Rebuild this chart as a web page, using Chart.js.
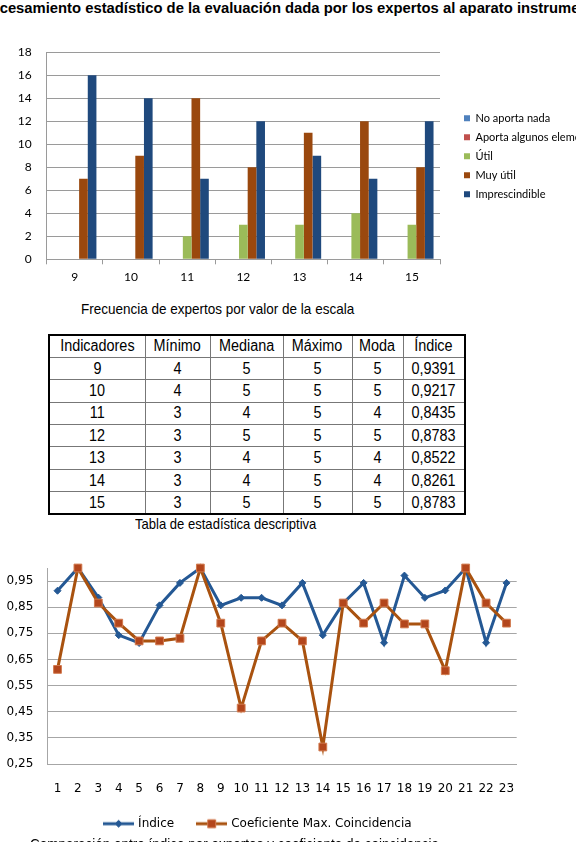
<!DOCTYPE html>
<html lang="es">
<head>
<meta charset="utf-8">
<script src="https://cdn.jsdelivr.net/npm/chart.js@4.4.1/dist/chart.umd.min.js"></script>
<style>
  html, body { margin: 0; padding: 0; background: #fff; }
  body {
    width: 576px; height: 842px; overflow: hidden; position: relative;
    font-family: 'Liberation Sans Narrow', 'Arial Narrow', 'Liberation Sans', sans-serif;
    color: #000;
  }
  .abs { position: absolute; white-space: nowrap; }
  .estrecho { transform: scaleX(0.9); transform-origin: 0 0; }
  #titulo { top: -1px; left: -25px; font-family: 'Liberation Sans', sans-serif; font-weight: bold; font-size: 14.8px; line-height: 18px; }
  #capBarras { top: 300px; left: 81px; font-size: 15px; }
  #capTabla { top: 516px; left: 135px; font-size: 14.5px; }
  #capLineas { top: 835px; left: 30px; font-size: 15px; }
  #barras { position: absolute; top: 30px; left: 0; }
  #lineas { position: absolute; top: 545px; left: 0; }
  table {
    position: absolute; top: 334px; left: 48px; width: 416px;
    border-collapse: collapse; table-layout: fixed;
    border: 2px solid #000; font-size: 16px;
  }
  td, th { border: 1px solid #777; text-align: center; padding: 0; font-weight: normal; line-height: 18px; white-space: nowrap; }
  td span, th span { display: inline-block; transform: scaleX(0.9); }
  tr { height: 22.4px; }
</style>
</head>
<body>
<div id="titulo" class="abs">Procesamiento estadístico de la evaluación dada por los expertos al aparato instrumental</div>
<canvas id="barras" width="576" height="266"></canvas>
<div id="capBarras" class="abs estrecho">Frecuencia de expertos por valor de la escala</div>
<table id="tabla">
  <colgroup><col style="width:96px"><col style="width:65px"><col style="width:73px"><col style="width:69px"><col style="width:51px"><col style="width:62px"></colgroup>
  <thead></thead>
  <tbody></tbody>
</table>
<div id="capTabla" class="abs estrecho">Tabla de estadística descriptiva</div>
<canvas id="lineas" width="533" height="297"></canvas>
<div id="capLineas" class="abs estrecho">Comparación entre índice por expertos y coeficiente de coincidencia</div>
<script>
// --- datos del gráfico de barras ---
const escala = ['9', '10', '11', '12', '13', '14', '15'];
const noAporta = [0, 0, 0, 0, 0, 0, 0];
const aportaAlgunos = [0, 0, 0, 0, 0, 0, 0];
const util = [0, 0, 2, 3, 3, 4, 3];
const muyUtil = [7, 9, 14, 8, 11, 12, 8];
const imprescindible = [16, 14, 7, 12, 9, 7, 12];

// --- tabla de estadística descriptiva ---
const columnas = ['Indicadores', 'Mínimo', 'Mediana', 'Máximo', 'Moda', 'Índice'];
const minimo = [4, 4, 3, 3, 3, 3, 3];
const mediana = [5, 5, 4, 5, 4, 4, 5];
const maximo = [5, 5, 5, 5, 5, 5, 5];
const moda = [5, 5, 4, 5, 4, 4, 5];
const indiceTabla = ['0,9391', '0,9217', '0,8435', '0,8783', '0,8522', '0,8261', '0,8783'];

// --- datos del gráfico de líneas ---
const puntos = ['1', '2', '3', '4', '5', '6', '7', '8', '9', '10', '11', '12',
                '13', '14', '15', '16', '17', '18', '19', '20', '21', '22', '23'];
const indice = [0.913, 1.0, 0.887, 0.743, 0.713, 0.857, 0.943, 1.0, 0.857, 0.886, 0.886, 0.857,
                0.943, 0.743, 0.865, 0.943, 0.714, 0.971, 0.886, 0.914, 1.0, 0.714, 0.943];
const coefMax = [0.612, 1.0, 0.866, 0.789, 0.721, 0.721, 0.731, 1.0, 0.789, 0.464, 0.721, 0.789,
                 0.721, 0.315, 0.866, 0.789, 0.866, 0.786, 0.786, 0.607, 1.0, 0.866, 0.789];
const ticksLineas = [0.25, 0.35, 0.45, 0.55, 0.65, 0.75, 0.85, 0.95];

// tabla
const celda = (tag, v) => '<' + tag + '><span>' + v + '</span></' + tag + '>';
document.querySelector('#tabla thead').innerHTML =
  '<tr>' + columnas.map(c => celda('th', c)).join('') + '</tr>';
const tbody = document.querySelector('#tabla tbody');
escala.forEach((e, i) => {
  const tr = document.createElement('tr');
  tr.innerHTML = [e, minimo[i], mediana[i], maximo[i], moda[i], indiceTabla[i]]
    .map(v => celda('td', v)).join('');
  tbody.appendChild(tr);
});

Chart.defaults.animation = false;
Chart.defaults.color = '#000';

// mueve la leyenda de barras un poco hacia la derecha / arriba
const moverLeyenda = {
  id: 'moverLeyenda',
  afterLayout(chart, args, opts) {
    if (!chart.legend) return;
    chart.legend.left += opts.dx || 0;
    chart.legend.right += opts.dx || 0;
    chart.legend.top += opts.dy || 0;
    chart.legend.bottom += opts.dy || 0;
  }
};

const gris = '#9a9a9a';
const fuenteBarras = { family: 'Lato', size: 11 };
const fuenteEjes = { family: 'Lato', size: 12 };

new Chart(document.getElementById('barras'), {
  type: 'bar',
  data: {
    labels: escala,
    datasets: [
      { label: 'No aporta nada', data: noAporta, backgroundColor: '#4F81BD' },
      { label: 'Aporta algunos elementos', data: aportaAlgunos, backgroundColor: '#C0504D' },
      { label: 'Útil', data: util, backgroundColor: '#9BBB59' },
      { label: 'Muy útil', data: muyUtil, backgroundColor: '#9A480E' },
      { label: 'Imprescindible', data: imprescindible, backgroundColor: '#1F497D' }
    ]
  },
  options: {
    responsive: false,
    devicePixelRatio: 1,
    datasets: { bar: { categoryPercentage: 0.77, barPercentage: 1, borderWidth: 0 } },
    layout: { padding: { top: 14, bottom: 11.7, left: 0 } },
    scales: {
      y: {
        min: 0, max: 18,
        ticks: { stepSize: 2, padding: 15, font: fuenteEjes },
        grid: { color: gris, drawTicks: false },
        border: { color: gris },
        afterFit(s) { s.width = 46.7; }
      },
      x: {
        grid: { offset: true, drawOnChartArea: false, tickLength: 5, color: gris },
        border: { color: gris },
        ticks: { padding: 6, font: fuenteEjes },
        afterFit(s) { s.height = 25; }
      }
    },
    plugins: {
      legend: {
        position: 'right',
        maxWidth: 136,
        labels: { boxWidth: 6, boxHeight: 6, padding: 8, font: fuenteBarras }
      },
      tooltip: { enabled: false },
      moverLeyenda: { dx: 16, dy: -8 }
    }
  },
  plugins: [moverLeyenda]
});

// muestras de la leyenda: línea con marcador
function muestra(color, relleno, borde, forma) {
  const c = document.createElement('canvas');
  c.width = 31; c.height = 12;
  const g = c.getContext('2d');
  g.strokeStyle = color; g.lineWidth = 3;
  g.beginPath(); g.moveTo(0, 6); g.lineTo(31, 6); g.stroke();
  g.fillStyle = relleno; g.strokeStyle = borde; g.lineWidth = 1;
  g.beginPath();
  if (forma === 'rombo') {
    g.moveTo(15.5, 2.5); g.lineTo(19, 6); g.lineTo(15.5, 9.5); g.lineTo(12, 6);
  } else {
    g.rect(11.5, 2, 8, 8);
  }
  g.closePath(); g.fill(); g.stroke();
  return c;
}
const azul = '#245894';
const naranja = '#A9520F';
const muestras = [
  muestra(azul, azul, azul, 'rombo'),
  muestra(naranja, '#B3461C', '#D27A4E', 'cuadro')
];

const fuenteLineas = { family: 'DejaVu Sans', size: 12 };
const grisLineas = '#a6a6a6';

new Chart(document.getElementById('lineas'), {
  type: 'line',
  data: {
    labels: puntos,
    datasets: [
      {
        label: 'Índice', data: indice, order: 1, clip: false,
        borderColor: azul, backgroundColor: azul, borderWidth: 3,
        pointStyle: 'rectRot', pointRadius: 3.5, pointBackgroundColor: azul, pointBorderColor: azul,
        pointBorderWidth: 1
      },
      {
        label: 'Coeficiente Max. Coincidencia', data: coefMax, order: 0, clip: false,
        borderColor: naranja, backgroundColor: naranja, borderWidth: 3,
        pointStyle: 'rect', pointRadius: 5.5, pointBackgroundColor: '#B3461C', pointBorderColor: '#D27A4E',
        pointBorderWidth: 1
      }
    ]
  },
  options: {
    responsive: false,
    devicePixelRatio: 1,
    layout: { padding: { top: 23, right: 16.3, bottom: 2.3, left: 0 } },
    scales: {
      y: {
        min: 0.25, max: 1.0,
        afterBuildTicks(s) { s.ticks = ticksLineas.map(v => ({ value: v })); },
        ticks: { padding: 14, font: fuenteLineas, callback: v => v.toFixed(2).replace('.', ',') },
        grid: { color: grisLineas, drawTicks: false },
        border: { color: grisLineas },
        afterFit(s) { s.width = 47.3; }
      },
      x: {
        offset: true,
        grid: { display: false, drawTicks: false },
        border: { color: grisLineas },
        ticks: { padding: 18, font: fuenteLineas, autoSkip: false, maxRotation: 0 },
        afterFit(s) { s.height = 29.7; }
      }
    },
    plugins: {
      legend: {
        position: 'bottom',
        labels: {
          usePointStyle: true, pointStyleWidth: 27, padding: 24, font: fuenteLineas,
          sort: (a, b) => a.datasetIndex - b.datasetIndex,
          generateLabels(chart) {
            const items = Chart.defaults.plugins.legend.labels.generateLabels(chart);
            items.forEach(it => { it.pointStyle = muestras[it.datasetIndex]; });
            return items;
          }
        }
      },
      tooltip: { enabled: false }
    }
  }
});
</script>
</body>
</html>
